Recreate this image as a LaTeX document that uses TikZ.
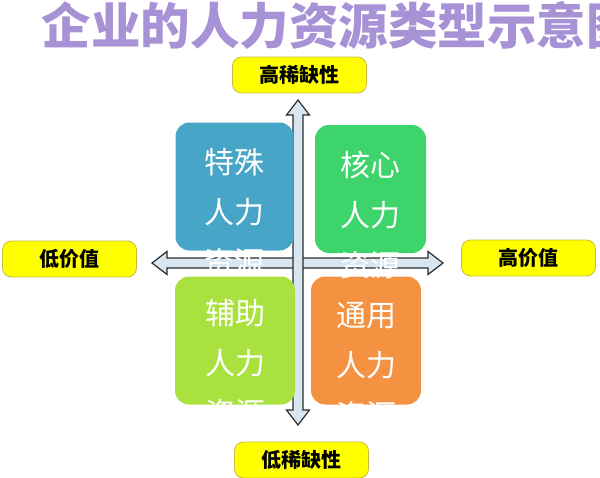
\documentclass[tikz,border=0pt]{standalone}
\usepackage{fontspec}
\setmainfont{Noto Sans CJK SC}
\usetikzlibrary{positioning}
\definecolor{titlepurple}{HTML}{A792D6}
\definecolor{axisblue}{HTML}{D8E6F2}
\definecolor{axisline}{HTML}{2B2B2B}
\definecolor{tagyellow}{HTML}{FFFF00}
\definecolor{tagline}{HTML}{C8BC3C}
\definecolor{specialblue}{HTML}{47A5C7}
\definecolor{coregreen}{HTML}{3ED46C}
\definecolor{assistgreen}{HTML}{A9E23E}
\definecolor{generalorange}{HTML}{F59241}
\begin{document}
\begin{tikzpicture}[x=1pt,y=-1pt,
  axis/.style={fill=axisblue,draw=axisline,line width=1.2pt,line join=miter},
  quad/.style={rounded corners=14pt,minimum width=118pt,minimum height=128pt,inner sep=0pt},
  quadtext/.style={text=white,font=\fontsize{30}{50}\selectfont,align=center,inner sep=0pt},
  tag/.style={fill=tagyellow,draw=tagline,line width=0.8pt,rounded corners=9pt,minimum height=36pt,
    minimum width=134pt,inner sep=0pt,font=\fontsize{20}{24}\selectfont\bfseries}]
\useasboundingbox (0,0) rectangle (600,477);
\clip (0,0) rectangle (600,477);
% title
\node[anchor=west,inner sep=0pt,text=titlepurple,font=\fontsize{49.5}{56}\selectfont\bfseries] (title) at (41.5,25.5) {企业的人力资源类型示意图};
% axes
\draw[axis] (152,263) -- (167,251.5) -- (167,258) -- (428,258) -- (428,251.5) -- (443,263)
  -- (428,274.5) -- (428,268) -- (167,268) -- (167,274.5) -- cycle;
\draw[axis] (298,100) -- (286.5,115) -- (293,115) -- (293,410) -- (286.5,410) -- (298,425)
  -- (309.5,410) -- (303,410) -- (303,115) -- (309.5,115) -- cycle;
% quadrants
\node[quad,fill=specialblue]   (special) at (234.5,186.5) {};
\node[quad,fill=coregreen,minimum width=111pt]     (core)    at (370.5,189) {};
\node[quad,fill=assistgreen,minimum width=120pt]   (assist)  at (235,340.5) {};
\node[quad,fill=generalorange,minimum width=110pt] (general) at (366,340.5) {};
\node[quadtext] (specialtxt) at ([yshift=-26pt]special.center) {特殊\\人力\\资源};
\node[quadtext] (coretxt)    at ([yshift=-26pt]core.center)    {核心\\人力\\资源};
\node[quadtext] (assisttxt)  at ([yshift=-23pt]assist.center)  {辅助\\人力\\资源};
\node[quadtext] (generaltxt) at ([yshift=-25pt]general.center) {通用\\人力\\资源};
% tags
\node[tag] (highscarce) at (299.5,75) {高稀缺性};
\node[tag] (lowvalue)   at (69.5,259) {低价值};
\node[tag] (highvalue)  at (528.5,258) {高价值};
\node[tag] (lowscarce)  at (301.5,460) {低稀缺性};
\end{tikzpicture}
\end{document}
